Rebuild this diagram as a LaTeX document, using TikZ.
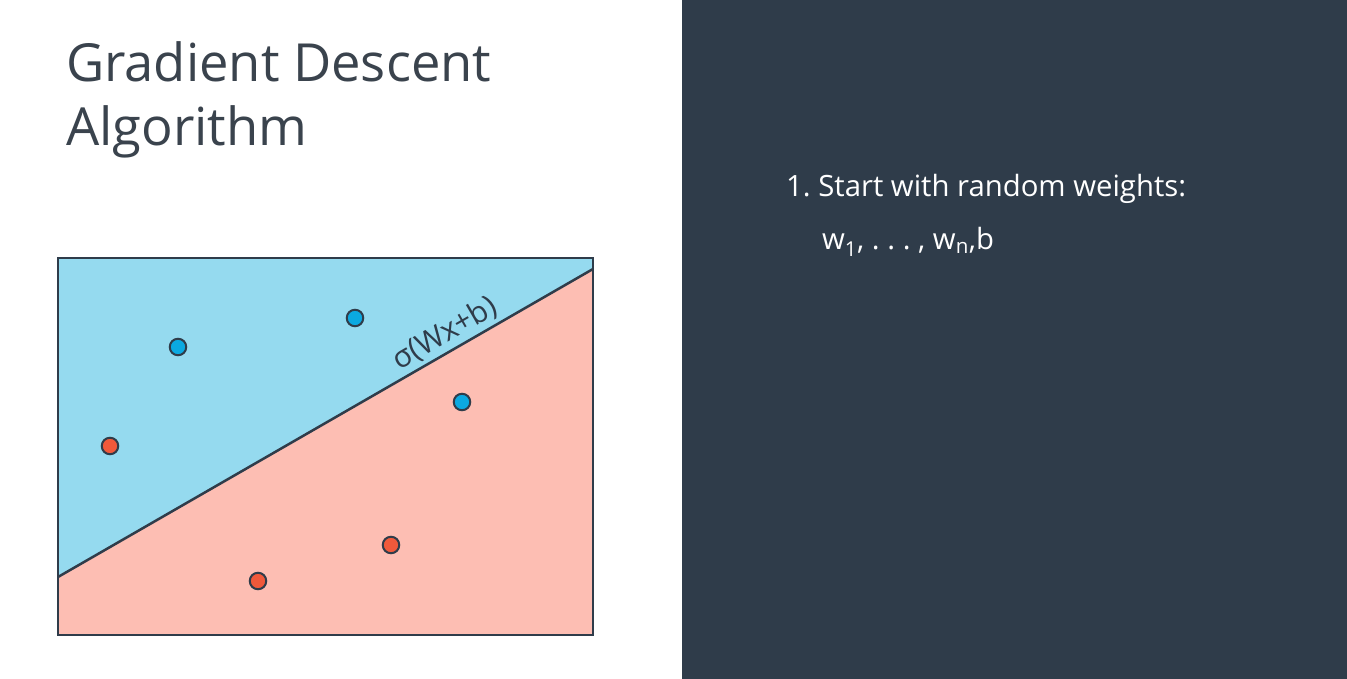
\documentclass[tikz,border=0pt]{standalone}
\usepackage{fontspec}
\setmainfont{Open Sans}
\usetikzlibrary{positioning}
\definecolor{slate}{HTML}{2F3C4A}
\definecolor{titlegray}{HTML}{3A434D}
\definecolor{skyfill}{HTML}{95DAEF}
\definecolor{salmonfill}{HTML}{FDBEB3}
\definecolor{bluedot}{HTML}{0BA9E1}
\definecolor{reddot}{HTML}{F0593B}
\tikzset{
  bluept/.style={circle, draw=slate, line width=2pt, fill=bluedot, minimum size=16.5pt, inner sep=0pt},
  redpt/.style={circle, draw=slate, line width=2pt, fill=reddot, minimum size=16.5pt, inner sep=0pt},
  titletext/.style={anchor=base west, inner sep=0pt, text=titlegray, font=\fontsize{52.5}{60}\selectfont},
  listtext/.style={anchor=base west, inner sep=0pt, text=white, font=\fontsize{29.3}{34}\selectfont}
}
\begin{document}
\frenchspacing
\begin{tikzpicture}[x=1pt,y=-1pt]
  \useasboundingbox (0,0) rectangle (1347,679);
  % Background
  \fill[white] (0,0) rectangle (682,679);
  \fill[slate] (682,0) rectangle (1347,679);

  % Title
  \node[titletext] (title1) at (66,82) {Gradient Descent};
  \node[titletext] (title2) at (66,146) {Algorithm};

  % Regions
  \coordinate (lineL) at (58,577);
  \coordinate (lineR) at (593,269);
  \fill[skyfill] (58,258) -- (593,258) -- (lineR) -- (lineL) -- cycle;
  \fill[salmonfill] (lineL) -- (lineR) -- (593,635) -- (58,635) -- cycle;
  \draw[slate, line width=2.5pt] (lineL) -- (lineR)
    node[pos=0.74, sloped, above=3pt, inner sep=0pt, text=slate, font=\fontsize{30}{34}\selectfont] (sigma) {σ(Wx+b)};
  \draw[slate, line width=2pt] (58,258) rectangle (593,635);

  % Points
  \node[bluept] (b1) at (178,347) {};
  \node[bluept] (b2) at (355,318) {};
  \node[bluept] (b3) at (462,402) {};
  \node[redpt] (r1) at (110,446) {};
  \node[redpt] (r2) at (258,581) {};
  \node[redpt] (r3) at (391,545) {};

  % Steps
  \node[listtext] (step1) at (786,197) {1. Start with random weights:};
  \node[listtext] (weights) at (822,250) {w\textsubscript{1}, . . . , w\textsubscript{n},b};
\end{tikzpicture}
\end{document}
